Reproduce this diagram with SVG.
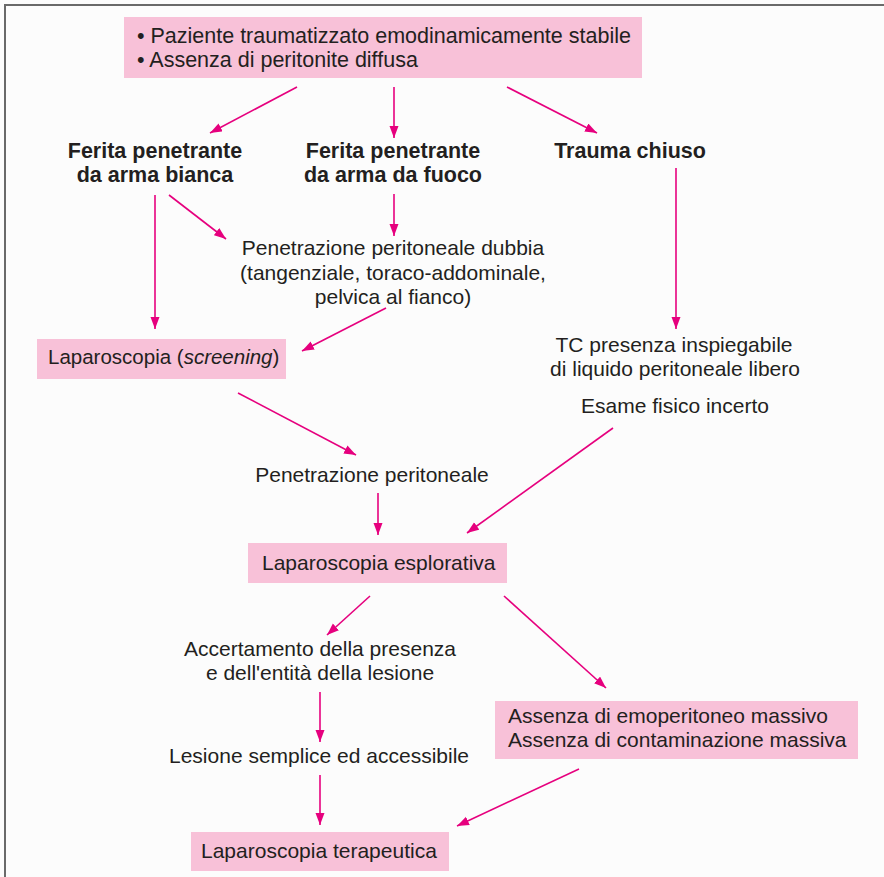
<svg xmlns="http://www.w3.org/2000/svg" width="884" height="877" viewBox="0 0 884 877">
<defs>
<style>
.t{font-family:"Liberation Sans",Arial,sans-serif;font-size:21px;fill:#231f20}
.b{font-weight:bold;font-size:21.5px}
.top{font-size:21.5px}
.c{text-anchor:middle}
.box{fill:#f8c1d8}
.a{stroke:#e6007e;stroke-width:1.6;fill:none;marker-end:url(#ah)}
</style>
<marker id="ah" markerUnits="userSpaceOnUse" markerWidth="12" markerHeight="10" refX="12" refY="4.5" orient="auto">
<path d="M0,0 L12,4.5 L0,9 z" fill="#e6007e"/>
</marker>
</defs>
<rect x="0" y="0" width="884" height="877" fill="#fcfcfc"/>
<path d="M5,877 V5 H884" fill="none" stroke="#6a6a6a" stroke-width="2"/>

<g id="connectors">
<line class="a" x1="297" y1="87" x2="210" y2="133"/>
<line class="a" x1="394" y1="87" x2="394" y2="138"/>
<line class="a" x1="507" y1="87" x2="597" y2="133"/>
<line class="a" x1="155" y1="195" x2="155" y2="329"/>
<line class="a" x1="169" y1="195" x2="226" y2="239"/>
<line class="a" x1="394" y1="194" x2="394" y2="236"/>
<line class="a" x1="676" y1="168" x2="676" y2="329"/>
<line class="a" x1="386" y1="308" x2="302" y2="351"/>
<line class="a" x1="238" y1="393" x2="356" y2="455"/>
<line class="a" x1="613" y1="428" x2="467" y2="533"/>
<line class="a" x1="378" y1="493" x2="378" y2="535"/>
<line class="a" x1="370" y1="596" x2="327" y2="635"/>
<line class="a" x1="504" y1="596" x2="606" y2="688"/>
<line class="a" x1="320" y1="692" x2="320" y2="742"/>
<line class="a" x1="320" y1="775" x2="320" y2="825"/>
<line class="a" x1="579" y1="769" x2="457" y2="826"/>
</g>

<g id="start">
<rect class="box" x="124" y="17" width="518" height="61"/>
<text class="t top" x="137" y="43">• Paziente traumatizzato emodinamicamente stabile</text>
<text class="t top" x="137" y="67">• Assenza di peritonite diffusa</text>
</g>

<g id="arma-bianca">
<text class="t b c" x="155" y="158">Ferita penetrante</text>
<text class="t b c" x="155" y="182">da arma bianca</text>
</g>

<g id="arma-fuoco">
<text class="t b c" x="393" y="158">Ferita penetrante</text>
<text class="t b c" x="393" y="182">da arma da fuoco</text>
</g>

<g id="trauma-chiuso">
<text class="t b c" x="630" y="158">Trauma chiuso</text>
</g>

<g id="penetrazione-dubbia">
<text class="t c" x="393" y="255">Penetrazione peritoneale dubbia</text>
<text class="t c" x="393" y="280">(tangenziale, toraco-addominale,</text>
<text class="t c" x="393" y="304">pelvica al fianco)</text>
</g>

<g id="screening">
<rect class="box" x="37" y="339" width="249" height="40"/>
<text class="t" x="48" y="364" style="font-size:20.5px">Laparoscopia (<tspan font-style="italic">screening</tspan>)</text>
</g>

<g id="tc">
<text class="t c" x="674" y="352">TC presenza inspiegabile</text>
<text class="t c" x="675" y="376">di liquido peritoneale libero</text>
</g>

<g id="esame">
<text class="t c" x="675" y="413">Esame fisico incerto</text>
</g>

<g id="penetrazione">
<text class="t c" x="372" y="482">Penetrazione peritoneale</text>
</g>

<g id="esplorativa">
<rect class="box" x="248" y="543" width="259" height="40"/>
<text class="t" x="262" y="570">Laparoscopia esplorativa</text>
</g>

<g id="accertamento">
<text class="t c" x="320" y="656">Accertamento della presenza</text>
<text class="t c" x="320" y="680">e dell'entità della lesione</text>
</g>

<g id="lesione">
<text class="t c" x="319" y="763">Lesione semplice ed accessibile</text>
</g>

<g id="assenza">
<rect class="box" x="495" y="701" width="363" height="58"/>
<text class="t" x="508" y="723">Assenza di emoperitoneo massivo</text>
<text class="t" x="508" y="747">Assenza di contaminazione massiva</text>
</g>

<g id="terapeutica">
<rect class="box" x="191" y="832" width="258" height="39"/>
<text class="t" x="201" y="858">Laparoscopia terapeutica</text>
</g>
</svg>
